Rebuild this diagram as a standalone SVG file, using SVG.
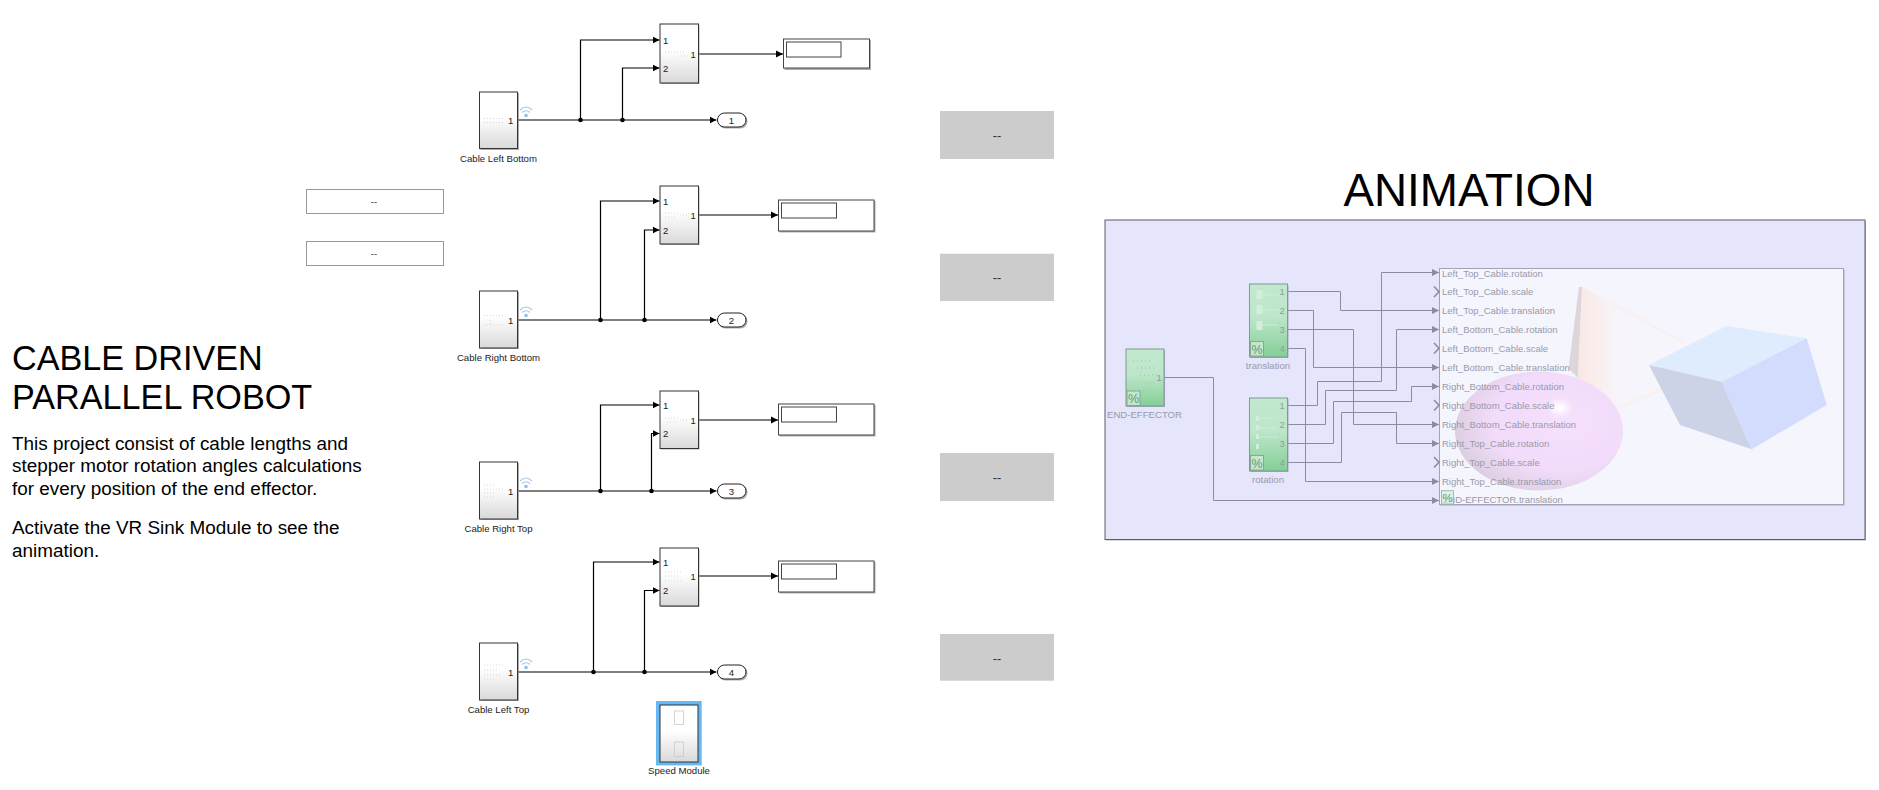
<svg xmlns="http://www.w3.org/2000/svg" width="1879" height="790" viewBox="0 0 1879 790">
<style>
text{font-family:"Liberation Sans",Arial,sans-serif}
.blk{fill:url(#wg);stroke:#333;stroke-width:1}
.sh{fill:#999;opacity:.8}
.gblk{fill:url(#gg);stroke:#7f9a90;stroke-width:1}
.gsh{fill:#a9a9c4}
.wire{fill:none;stroke:#000;stroke-width:1.2;marker-end:url(#a)}
.gwire{fill:none;stroke:#8c8c9c;stroke-width:1;marker-end:url(#ga)}
.dot{fill:#000}
.p{font-size:9.5px;fill:#222}
.n{font-size:9.6px;fill:#222;text-anchor:middle}
.gp{font-size:9.5px;fill:#8f9f98}
.gn{font-size:9.6px;fill:#9a9aaa;text-anchor:middle}
.vl{font-size:9.5px;fill:#9a9aaa}
.disp{fill:#fff;stroke:#444;stroke-width:1}
.in{fill:#fff;stroke:#444;stroke-width:1}
.pill{fill:#fff;stroke:#222;stroke-width:1}
.cmd{fill:#ccc}
.dash{font-size:13px;fill:#333;text-anchor:middle}
.btn{fill:#fff;stroke:#999;stroke-width:1}
.ic{fill:none;stroke:#d8d8d8;stroke-width:1;stroke-dasharray:1 2}
.gic{fill:#d4eedd;stroke:none}
.gln{stroke:#cfead9;stroke-width:1;fill:none}
.pct{fill:#c3e6cf;stroke:#86a896;stroke-width:1}
.pt{font-size:12.5px;fill:#5f9a74;text-anchor:middle}
.wifi{fill:none;stroke:#a9c8e8;stroke-width:1.1}
.chev{fill:none;stroke:#8c8c9c;stroke-width:1.6}
.title{font-size:34.2px;fill:#000}
.body{font-size:18.9px;fill:#000}
</style>
<defs>
<linearGradient id="wg" x1="0" y1="0" x2="0" y2="1"><stop offset="0" stop-color="#fff"/><stop offset=".45" stop-color="#fff"/><stop offset="1" stop-color="#d9d9d9"/></linearGradient>
<linearGradient id="gg" x1="0" y1="0" x2="0" y2="1"><stop offset="0" stop-color="#c2e9cf"/><stop offset=".45" stop-color="#bde6ca"/><stop offset="1" stop-color="#84cf96"/></linearGradient>
<radialGradient id="sph" cx=".64" cy=".42" r=".72"><stop offset="0" stop-color="#f5e0fc"/><stop offset=".58" stop-color="#f2dbfb"/><stop offset=".82" stop-color="#e2d2e8"/><stop offset="1" stop-color="#d3cbdb"/></radialGradient>
<linearGradient id="cone" x1="0" y1="0" x2="1" y2="0"><stop offset="0" stop-color="#f8e8e4"/><stop offset=".18" stop-color="#f9eeee"/><stop offset=".4" stop-color="#f7f5fb"/><stop offset="1" stop-color="#f6f6fe"/></linearGradient>
<filter id="bl" x="-20%" y="-20%" width="140%" height="140%"><feGaussianBlur stdDeviation="1.2"/></filter>
<filter id="bl3" x="-60%" y="-60%" width="220%" height="220%"><feGaussianBlur stdDeviation="3"/></filter>
<marker id="a" markerUnits="userSpaceOnUse" markerWidth="8" markerHeight="8" refX="7" refY="4" orient="auto"><path d="M0,.5 L7,4 L0,7.5 z" fill="#000"/></marker>
<marker id="ga" markerUnits="userSpaceOnUse" markerWidth="8" markerHeight="8" refX="7" refY="4" orient="auto"><path d="M0,.5 L7,4 L0,7.5 z" fill="#8c8c9c"/></marker>
</defs>
<rect width="1879" height="790" fill="#fff"/>

<g id="intro">
<text class="title" x="12" y="369.5">CABLE DRIVEN</text>
<text class="title" x="12" y="408.5">PARALLEL ROBOT</text>
<text class="body" x="12" y="449.5">This project consist of cable lengths and</text>
<text class="body" x="12" y="472">stepper motor rotation angles calculations</text>
<text class="body" x="12" y="494.5">for every position of the end effector.</text>
<text class="body" x="12" y="533.5">Activate the VR Sink Module to see the</text>
<text class="body" x="12" y="556.5">animation.</text>
</g>
<g id="button-1"><rect class="btn" x="306.5" y="189.5" width="137" height="24"/><text class="dash" style="font-size:9.5px" x="374" y="205">--</text></g>
<g id="button-2"><rect class="btn" x="306.5" y="241.5" width="137" height="24"/><text class="dash" style="font-size:9.5px" x="374" y="257">--</text></g>
<g id="command-1"><rect class="cmd" x="940" y="111" width="114" height="48"/><text class="dash" x="997" y="140">--</text></g>
<g id="command-2"><rect class="cmd" x="940" y="253.7" width="114" height="47.3"/><text class="dash" x="997" y="282">--</text></g>
<g id="command-3"><rect class="cmd" x="940" y="453" width="114" height="48"/><text class="dash" x="997" y="482">--</text></g>
<g id="command-4"><rect class="cmd" x="940" y="634" width="114" height="46.7"/><text class="dash" x="997" y="663">--</text></g>

<g id="connectors">
<path class="wire" d="M518,120H716.5"/>
<path class="wire" d="M580.5,120V40H659.5"/>
<path class="wire" d="M622.5,120V68H659.5"/>
<path class="wire" d="M698,54H783"/>
<path class="wire" d="M518,320H716.5"/>
<path class="wire" d="M600.5,320V201H659.5"/>
<path class="wire" d="M644.5,320V230H659.5"/>
<path class="wire" d="M698,215H778"/>
<path class="wire" d="M518,491H716.5"/>
<path class="wire" d="M600.5,491V405H659.5"/>
<path class="wire" d="M651.5,491V433.5H659.5"/>
<path class="wire" d="M698,420H778"/>
<path class="wire" d="M518,672H716.5"/>
<path class="wire" d="M593.5,672V562H659.5"/>
<path class="wire" d="M644.5,672V590.5H659.5"/>
<path class="wire" d="M698,576H778"/>
<circle class="dot" cx="580.5" cy="120" r="2.3"/><circle class="dot" cx="622.5" cy="120" r="2.3"/>
<circle class="dot" cx="600.5" cy="320" r="2.3"/><circle class="dot" cx="644.5" cy="320" r="2.3"/>
<circle class="dot" cx="600.5" cy="491" r="2.3"/><circle class="dot" cx="651.5" cy="491" r="2.3"/>
<circle class="dot" cx="593.5" cy="672" r="2.3"/><circle class="dot" cx="644.5" cy="672" r="2.3"/>
</g>

<g id="src-left-bottom"><rect class="sh" x="480.5" y="93" width="38.5" height="57"/><rect class="blk" x="479.5" y="92" width="38" height="56.5"/><path class="ic" d="M484,118.5H505M484,122.5H505"/><text class="p" x="508" y="124">1</text>
<path class="wifi" d="M520,110Q526,104 532,110M522,112.5Q526,109 530,112.5"/><circle cx="526" cy="115.5" r="1.8" fill="#8fbde8"/><text class="n" x="498.5" y="162">Cable Left Bottom</text></g>
<g id="src-right-bottom"><rect class="sh" x="480.5" y="292" width="38.5" height="57"/><rect class="blk" x="479.5" y="291" width="38" height="57"/><path class="ic" d="M484,315.5H504M490,320V325M484,325H503"/><text class="p" x="508" y="324">1</text>
<path class="wifi" d="M520,310Q526,304 532,310M522,312.5Q526,309 530,312.5"/><circle cx="526" cy="315.5" r="1.8" fill="#8fbde8"/><text class="n" x="498.5" y="361">Cable Right Bottom</text></g>
<g id="src-right-top"><rect class="sh" x="480.5" y="463" width="38.5" height="57"/><rect class="blk" x="479.5" y="462" width="38" height="57"/><path class="ic" d="M484,485H496M484,489H503M484,493H496M484,497H494"/><text class="p" x="508" y="495">1</text>
<path class="wifi" d="M520,481Q526,475 532,481M522,483.5Q526,480 530,483.5"/><circle cx="526" cy="486.5" r="1.8" fill="#8fbde8"/><text class="n" x="498.5" y="532">Cable Right Top</text></g>
<g id="src-left-top"><rect class="sh" x="480.5" y="644" width="38.5" height="57"/><rect class="blk" x="479.5" y="643" width="38" height="57"/><path class="ic" d="M484,665H503M484,670H498M484,675H500M484,679H496"/><text class="p" x="508" y="676">1</text>
<path class="wifi" d="M520,662Q526,656 532,662M522,664.5Q526,661 530,664.5"/><circle cx="526" cy="667.5" r="1.8" fill="#8fbde8"/><text class="n" x="498.5" y="713">Cable Left Top</text></g>

<g id="mux-1"><rect class="sh" x="661" y="25" width="38.5" height="59"/><rect class="blk" x="660" y="24" width="38.5" height="59"/><path class="ic" d="M665,52H685M678,56H690"/><text class="p" x="663" y="44">1</text><text class="p" x="663" y="72">2</text><text class="p" x="690.5" y="58">1</text></g>
<g id="mux-2"><rect class="sh" x="661" y="187" width="38.5" height="58"/><rect class="blk" x="660" y="186" width="38.5" height="58"/><path class="ic" d="M665,213H678M665,217H675M680,215H688"/><text class="p" x="663" y="205">1</text><text class="p" x="663" y="233.5">2</text><text class="p" x="690.5" y="219">1</text></g>
<g id="mux-3"><rect class="sh" x="661" y="392" width="38.5" height="57.5"/><rect class="blk" x="660" y="391" width="38.5" height="57.5"/><path class="ic" d="M665,418H680M667,422H678M680,420H688"/><text class="p" x="663" y="409">1</text><text class="p" x="663" y="437">2</text><text class="p" x="690.5" y="424">1</text></g>
<g id="mux-4"><rect class="sh" x="661" y="549" width="38.5" height="58"/><rect class="blk" x="660" y="548" width="38.5" height="58"/><path class="ic" d="M665,572H682M665,576H680M665,581H682"/><text class="p" x="663" y="566">1</text><text class="p" x="663" y="594">2</text><text class="p" x="690.5" y="580">1</text></g>

<g id="display-1"><rect class="sh" x="784.5" y="40" width="86.5" height="30"/><rect class="disp" x="783.5" y="39" width="86" height="29"/><rect class="in" x="786.5" y="42" width="54.5" height="15"/></g>
<g id="display-2"><rect class="sh" x="779.5" y="201" width="96" height="31.5"/><rect class="disp" x="778.5" y="200" width="95.5" height="31"/><rect class="in" x="781.5" y="203" width="55" height="15"/></g>
<g id="display-3"><rect class="sh" x="779.5" y="405" width="96" height="31.5"/><rect class="disp" x="778.5" y="404" width="95.5" height="31"/><rect class="in" x="781.5" y="407" width="55" height="15"/></g>
<g id="display-4"><rect class="sh" x="779.5" y="562" width="96" height="31.5"/><rect class="disp" x="778.5" y="561" width="95.5" height="31"/><rect class="in" x="781.5" y="564" width="55" height="15"/></g>

<g id="out-1"><rect class="sh" x="718.5" y="114" width="29" height="14.5" rx="7"/><rect class="pill" x="717.5" y="113" width="28.5" height="14" rx="7"/><text class="n" x="731.5" y="123.5">1</text></g>
<g id="out-2"><rect class="sh" x="718.5" y="314" width="29" height="14.5" rx="7"/><rect class="pill" x="717.5" y="313" width="28.5" height="14" rx="7"/><text class="n" x="731.5" y="323.5">2</text></g>
<g id="out-3"><rect class="sh" x="718.5" y="485" width="29" height="14.5" rx="7"/><rect class="pill" x="717.5" y="484" width="28.5" height="14" rx="7"/><text class="n" x="731.5" y="494.5">3</text></g>
<g id="out-4"><rect class="sh" x="718.5" y="666" width="29" height="14.5" rx="7"/><rect class="pill" x="717.5" y="665" width="28.5" height="14" rx="7"/><text class="n" x="731.5" y="675.5">4</text></g>

<g id="speed-module"><rect x="656" y="701" width="45.7" height="64.4" fill="#66b8f5"/><rect class="blk" x="660" y="705" width="38" height="57"/><rect x="674.5" y="711" width="9" height="13.5" fill="none" stroke="#d5d5d5"/><rect x="674.5" y="742" width="9" height="14.5" fill="none" stroke="#cfcfcf"/><text class="n" x="679" y="774">Speed Module</text></g>

<g id="animation-title"><text x="1469" y="206" font-size="45.8" fill="#000" text-anchor="middle">ANIMATION</text></g>
<g id="animation-panel"><rect x="1106" y="221" width="760" height="319.5" fill="#b5b5b5"/><rect x="1105" y="220" width="760" height="319.5" fill="#e5e5fc" stroke="#5c5c68"/></g>

<g id="vr-sink">
<rect x="1440" y="269.5" width="404.5" height="236" fill="#a9a9c0"/>
<rect x="1439.5" y="268.5" width="404" height="236" fill="#f5f5fe" stroke="#a3a3b3"/>
<polygon points="1579,287 1582,287 1578,378 1569,369 1569,365" fill="#dcd5da"/>
<polygon points="1582,287 1686,345 1664,388 1618,408 1578,378" fill="url(#cone)"/>
<path d="M1610,302L1684,343M1619,407L1664,389" fill="none" stroke="#faeee8" stroke-width="2" filter="url(#bl)"/>
<ellipse cx="1539" cy="431" rx="84" ry="59.5" fill="url(#sph)"/>
<ellipse cx="1560" cy="408" rx="9" ry="6" fill="#fff" filter="url(#bl3)"/>
<polygon points="1649,365 1726.7,326 1806.7,338.3 1721.7,381.7" fill="#dfecfe"/>
<polygon points="1649,365 1721.7,381.7 1751.7,449.3 1680,425" fill="#cdd3e6"/>
<polygon points="1721.7,381.7 1806.7,338.3 1826.7,405 1751.7,449.3" fill="#d3dcfd"/>
<text class="vl" x="1442" y="277">Left_Top_Cable.rotation</text>
<text class="vl" x="1442" y="295">Left_Top_Cable.scale</text>
<text class="vl" x="1442" y="314">Left_Top_Cable.translation</text>
<text class="vl" x="1442" y="333">Left_Bottom_Cable.rotation</text>
<text class="vl" x="1442" y="352">Left_Bottom_Cable.scale</text>
<text class="vl" x="1442" y="371">Left_Bottom_Cable.translation</text>
<text class="vl" x="1442" y="390">Right_Bottom_Cable.rotation</text>
<text class="vl" x="1442" y="409">Right_Bottom_Cable.scale</text>
<text class="vl" x="1442" y="428">Right_Bottom_Cable.translation</text>
<text class="vl" x="1442" y="447">Right_Top_Cable.rotation</text>
<text class="vl" x="1442" y="466">Right_Top_Cable.scale</text>
<text class="vl" x="1442" y="485">Right_Top_Cable.translation</text>
<text class="vl" x="1442" y="503">END-EFFECTOR.translation</text>
<rect x="1441.5" y="490.7" width="12" height="13.3" fill="#dcf0e0" fill-opacity=".8" stroke="#a8b8ac"/><text class="pt" style="font-size:11.5px" x="1447.5" y="502">%</text>
<path class="chev" d="M1434,286.5L1439,291.7L1434,297M1434,343L1439,348.3L1434,353.5M1434,400L1439,405.3L1434,410.5M1434,457L1439,462.3L1434,467.5"/>
</g>

<g id="gray-connectors">
<path class="gwire" d="M1288,291.5H1340.5V310.5H1439"/>
<path class="gwire" d="M1288,310.5H1313.5V367.5H1439"/>
<path class="gwire" d="M1288,329.5H1353.5V424.5H1439"/>
<path class="gwire" d="M1288,348.5H1305.5V481.5H1439"/>
<path class="gwire" d="M1288,405.5H1317.5V381.5H1381.5V272.5H1439"/>
<path class="gwire" d="M1288,424.5H1325.5V390.5H1396.5V329.5H1439"/>
<path class="gwire" d="M1288,443.5H1333.5V401.5H1411.5V386.5H1439"/>
<path class="gwire" d="M1288,462.5H1341.5V412.5H1396.5V443.5H1439"/>
<path class="gwire" d="M1164,377.5H1213.5V500.5H1439"/>
</g>

<g id="end-effector"><rect class="gsh" x="1127" y="350" width="38" height="57"/><rect class="gblk" x="1126" y="349" width="38" height="57"/><path d="M1133,361H1150M1137,368H1156M1140,375H1158M1141,383H1155M1135,391H1152" fill="none" stroke="#9cc0a8" stroke-dasharray="1 3"/><text class="gp" x="1156.5" y="381">1</text><rect class="pct" x="1127" y="391" width="13" height="14.5"/><text class="pt" x="1133.5" y="403">%</text><text class="gn" x="1144.5" y="417.5">END-EFFECTOR</text></g>
<g id="translation"><rect class="gsh" x="1250.5" y="285" width="38" height="73"/><rect class="gblk" x="1249.5" y="284" width="38" height="73"/><rect class="gic" x="1256.5" y="290" width="6" height="9"/><rect class="gic" x="1256.5" y="305" width="6" height="9"/><rect class="gic" x="1256.5" y="321" width="6" height="9"/><path class="gln" d="M1262,295H1278M1262,310H1278M1262,325H1278"/><text class="gp" x="1279.5" y="295">1</text><text class="gp" x="1279.5" y="314">2</text><text class="gp" x="1279.5" y="333">3</text><text class="gp" x="1279.5" y="352">4</text><rect class="pct" x="1250.5" y="341.5" width="13" height="14.5"/><text class="pt" x="1257" y="353.5">%</text><text class="gn" x="1268" y="369">translation</text></g>
<g id="rotation"><rect class="gsh" x="1250.5" y="399" width="38" height="73"/><rect class="gblk" x="1249.5" y="398" width="38" height="73"/><rect class="gic" x="1256" y="416" width="3" height="5"/><rect class="gic" x="1256" y="425" width="3" height="5"/><rect class="gic" x="1256" y="434" width="3" height="5"/><rect class="gic" x="1256" y="444" width="3" height="5"/><path class="gln" d="M1259,418H1278M1259,428H1278M1259,437H1278"/><text class="gp" x="1279.5" y="409">1</text><text class="gp" x="1279.5" y="428">2</text><text class="gp" x="1279.5" y="447">3</text><text class="gp" x="1279.5" y="466">4</text><rect class="pct" x="1250.5" y="455.5" width="13" height="14.5"/><text class="pt" x="1257" y="467.5">%</text><text class="gn" x="1268" y="483">rotation</text></g>
</svg>
